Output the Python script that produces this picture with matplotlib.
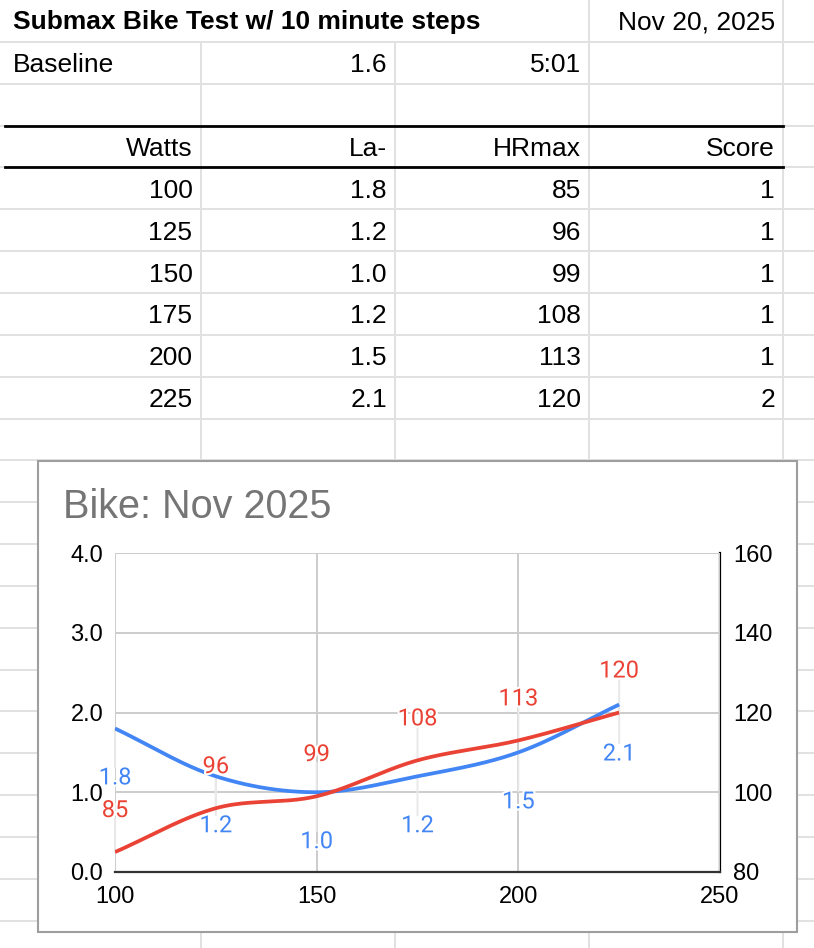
import matplotlib
matplotlib.use("Agg")
import matplotlib.pyplot as plt
import matplotlib.patheffects as pe
from matplotlib.patches import Rectangle
import numpy as np

# ---------------- data ----------------
sheet_title = "Submax Bike Test w/ 10 minute steps"
sheet_date = "Nov 20, 2025"
baseline_label = "Baseline"
baseline_la = 1.6
baseline_time = "5:01"
headers = ["Watts", "La-", "HRmax", "Score"]
watts = [100, 125, 150, 175, 200, 225]
lactate = [1.8, 1.2, 1.0, 1.2, 1.5, 2.1]
hrmax = [85, 96, 99, 108, 113, 120]
score = [1, 1, 1, 1, 1, 2]

chart_title = "Bike: Nov 2025"
x_ticks = [100, 150, 200, 250]
left_ticks = [0, 1, 2, 3, 4]
right_ticks = [80, 100, 120, 140, 160]

BLUE = "#4285f4"
RED = "#ea4335"
SHEET_FONT = "Liberation Sans"
LABEL_FONT = "Roboto"

# ---------------- figure / sheet ----------------
W, H = 814, 948
fig = plt.figure(figsize=(W / 100, H / 100), dpi=100)
ax0 = fig.add_axes([0, 0, 1, 1])
ax0.set_xlim(0, W)
ax0.set_ylim(H, 0)
ax0.axis("off")

ROW_H = 41.85
col_right = [200.5, 395, 589, 783]
grid_c = "#e1e1e1"
k = 1
while k * ROW_H < H:
    ax0.plot([0, W], [k * ROW_H] * 2, color=grid_c, lw=1.4, zorder=1)
    k += 1
for x in col_right:
    y0 = ROW_H if x < 589 else 0
    ax0.plot([x, x], [y0, H], color=grid_c, lw=1.4, zorder=1)
for r in (3, 4):
    ax0.plot([5, 783], [r * ROW_H] * 2, color="black", lw=2, zorder=2)

fs = 19
ax0.text(13, 29, sheet_title, fontsize=fs, fontweight="bold", family=SHEET_FONT,
         va="baseline", ha="left", zorder=3)
ax0.text(col_right[3] - 8, 29, sheet_date, fontsize=fs, family=SHEET_FONT,
         va="baseline", ha="right", zorder=3)
yb = ROW_H + 30
ax0.text(13, yb, baseline_label, fontsize=fs, family=SHEET_FONT, va="baseline", ha="left")
ax0.text(col_right[1] - 8, yb, f"{baseline_la:.1f}", fontsize=fs, family=SHEET_FONT,
         va="baseline", ha="right")
ax0.text(col_right[2] - 8, yb, baseline_time, fontsize=fs, family=SHEET_FONT,
         va="baseline", ha="right")
yh = 3 * ROW_H + 30
for c, h in enumerate(headers):
    ax0.text(col_right[c] - 8, yh, h, fontsize=fs, family=SHEET_FONT, va="baseline", ha="right")
for i, (w, la, hr, sc) in enumerate(zip(watts, lactate, hrmax, score)):
    y = (4 + i) * ROW_H + 30.5
    for c, s in enumerate([f"{w}", f"{la:.1f}", f"{hr}", f"{sc}"]):
        ax0.text(col_right[c] - 8, y, s, fontsize=fs, family=SHEET_FONT,
                 va="baseline", ha="right")

# chart card
ax0.add_patch(Rectangle((38, 461), 759, 471, facecolor="white", edgecolor="#9e9e9e",
                        lw=1.5, zorder=5))
ax0.text(63, 518, chart_title, fontsize=28.5, family=SHEET_FONT, color="#757575",
         va="baseline", ha="left", zorder=6)

# ---------------- chart ----------------
ax = fig.add_axes([115 / W, (H - 872) / H, 605 / W, 319 / H])
ax.set_facecolor("none")
ax2 = ax.twinx()
ax.set_zorder(10)
ax2.set_zorder(9)


def smooth(xs, ys, n=40):
    xs = np.asarray(xs, float)
    ys = np.asarray(ys, float)
    m = len(ys)
    t = np.empty(m)
    t[0] = ys[1] - ys[0]
    t[-1] = ys[-1] - ys[-2]
    t[1:-1] = (ys[2:] - ys[:-2]) / 2
    ox, oy = [], []
    for i in range(m - 1):
        s = np.linspace(0, 1, n)
        h00 = 2 * s**3 - 3 * s**2 + 1
        h10 = s**3 - 2 * s**2 + s
        h01 = -2 * s**3 + 3 * s**2
        h11 = s**3 - s**2
        ox.append(xs[i] + s * (xs[i + 1] - xs[i]))
        oy.append(h00 * ys[i] + h10 * t[i] + h01 * ys[i + 1] + h11 * t[i + 1])
    return np.concatenate(ox), np.concatenate(oy)


bx, by = smooth(watts, lactate)
rx, ry = smooth(watts, hrmax)
ax.plot(bx, by, color=BLUE, lw=2.7, zorder=2, solid_capstyle="butt")
ax.plot(rx, ry, color=RED, lw=2.7, zorder=2.1, solid_capstyle="butt",
        transform=ax2.transData)

halo = [pe.withStroke(linewidth=3, foreground="white")]
stem_c = "#e8e8e8"
for x, v in zip(watts, lactate):
    ax.annotate("", xy=(x, v), xytext=(0, -28), textcoords="offset points",
                arrowprops=dict(arrowstyle="-", color=stem_c, lw=1.4, shrinkA=0, shrinkB=0),
                zorder=1)
    ax.annotate(f"{v:.1f}", xy=(x, v), xytext=(0, -40.3), textcoords="offset points",
                ha="center", va="baseline", color=BLUE, fontsize=17, family=LABEL_FONT,
                path_effects=halo, zorder=4)
for x, v in zip(watts, hrmax):
    ax.annotate("", xy=(x, v), xycoords=ax2.transData, xytext=(0, 24),
                textcoords="offset points",
                arrowprops=dict(arrowstyle="-", color=stem_c, lw=1.4, shrinkA=0, shrinkB=0),
                zorder=1)
    ax.annotate(f"{v}", xy=(x, v), xycoords=ax2.transData, xytext=(0, 25.2),
                textcoords="offset points", ha="center", va="baseline", color=RED,
                fontsize=17, family=LABEL_FONT, path_effects=halo, zorder=4)

ax.set_xlim(100, 250)
ax.set_ylim(0, 4)
ax2.set_ylim(80, 160)
ax.set_xticks(x_ticks)
ax.set_yticks(left_ticks)
ax.set_yticklabels([f"{v:.1f}" for v in left_ticks])
ax2.set_yticks(right_ticks)
ax.grid(True, color="#cccccc", lw=1.4)
ax.set_axisbelow(True)
for a in (ax, ax2):
    for s in ("left", "top"):
        a.spines[s].set_visible(False)
ax.spines["right"].set_visible(False)
ax2.spines["bottom"].set_visible(False)
ax.spines["bottom"].set_color("#333333")
ax.spines["bottom"].set_linewidth(1.6)
ax2.spines["right"].set_color("black")
ax2.spines["right"].set_linewidth(1.6)
ax.tick_params(axis="x", length=0, pad=10, labelsize=17)
ax.tick_params(axis="y", length=0, pad=8.5, labelsize=17)
ax2.tick_params(axis="y", length=0, pad=9.5, labelsize=17)
for lab in ax.get_xticklabels() + ax.get_yticklabels() + ax2.get_yticklabels():
    lab.set_family(SHEET_FONT)
    lab.set_color("black")

fig.savefig("out.png", dpi=100)
